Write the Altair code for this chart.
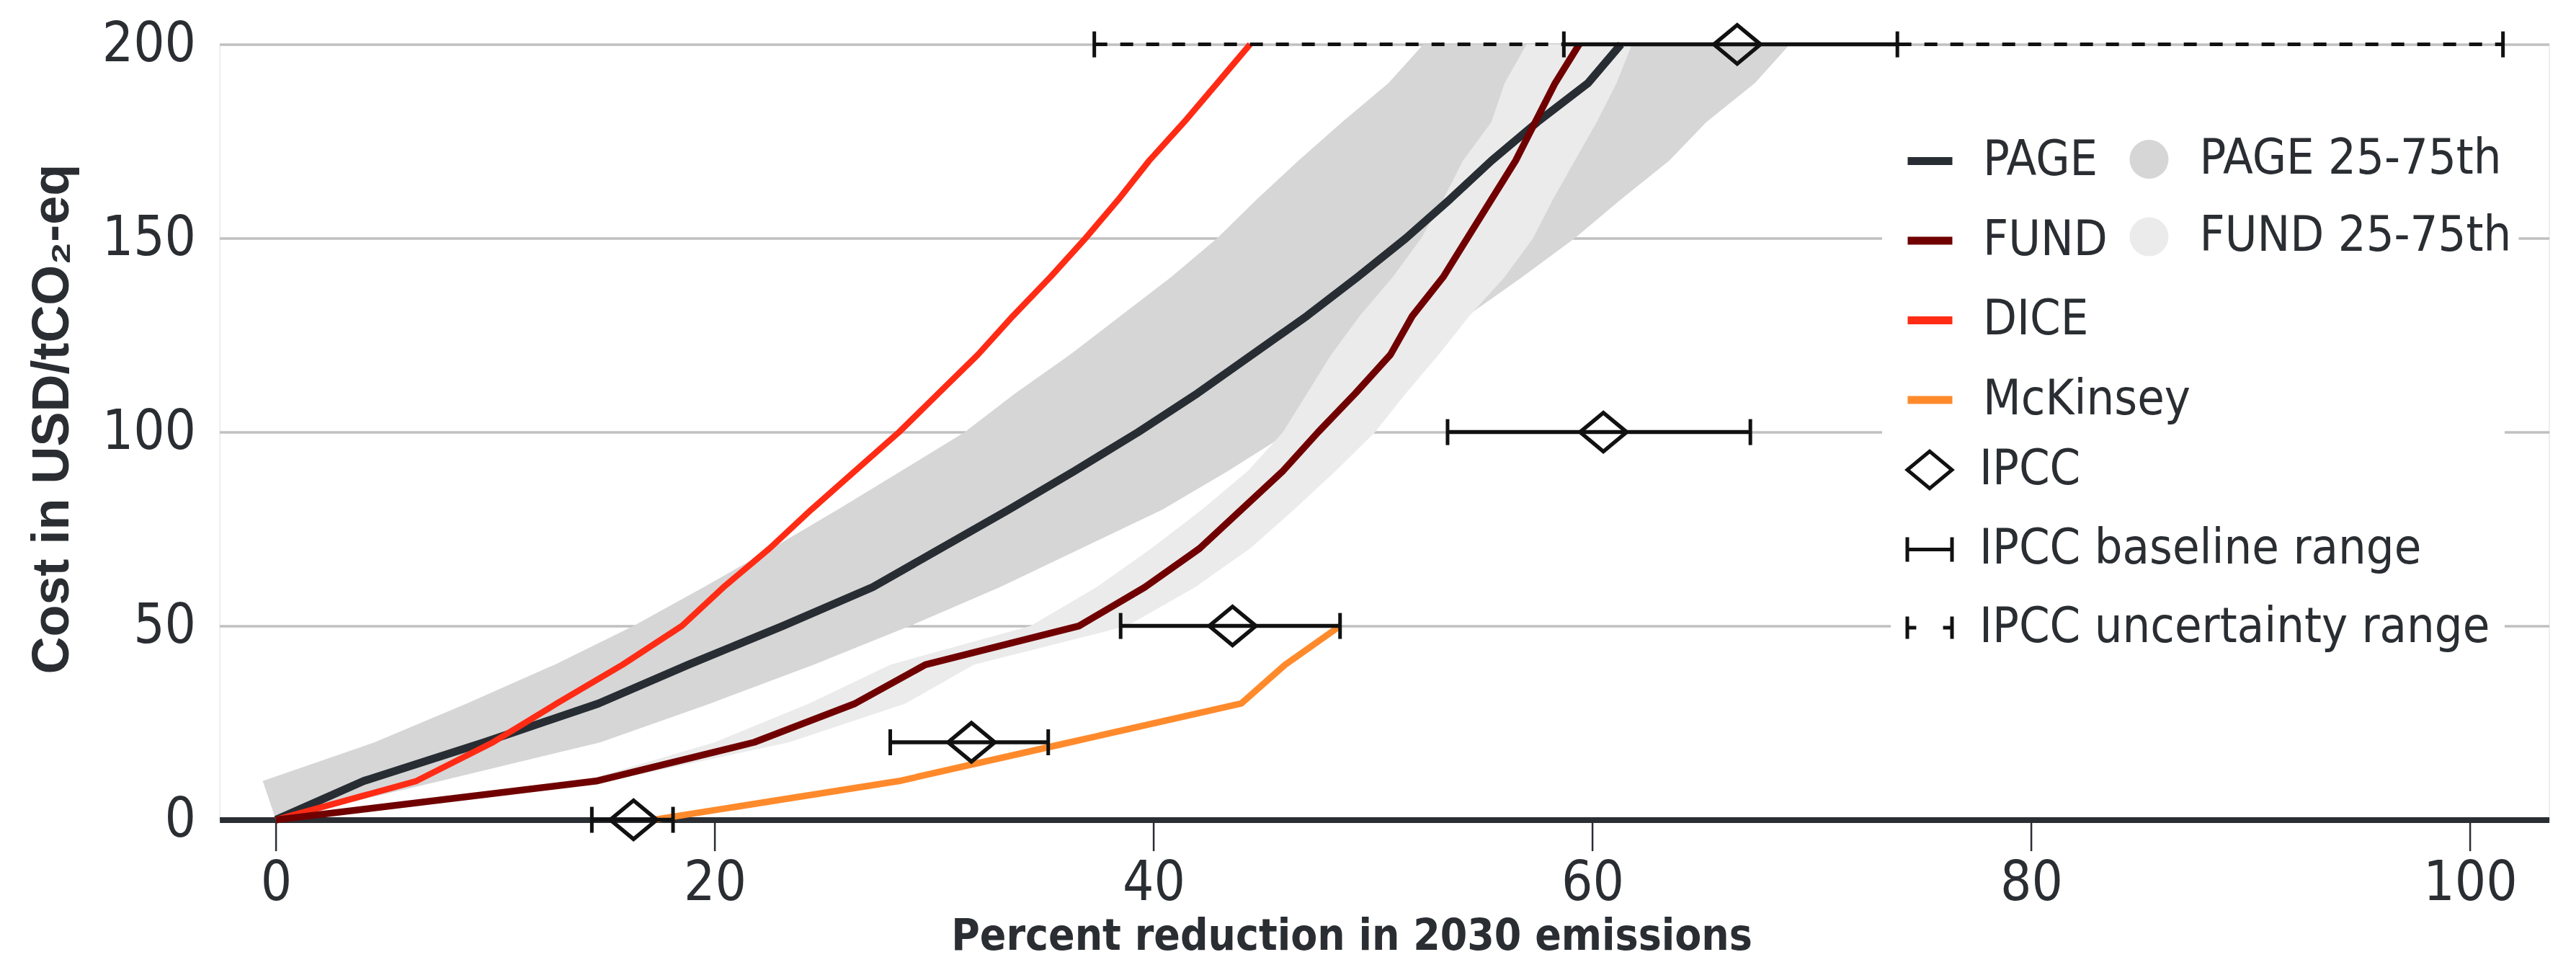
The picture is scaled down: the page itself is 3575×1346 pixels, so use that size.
import altair as alt
import pandas as pd

# ---------------- data ----------------
cost_levels = [0, 10, 20, 30, 40, 50, 60, 70, 80, 90, 100,
               110, 120, 130, 140, 150, 160, 170, 180, 190, 200]

page_pct = [0, 4.0, 9.5, 14.7, 18.8, 23.1, 27.2, 30.3, 33.4, 36.4, 39.3,
            42.0, 44.5, 47.0, 49.3, 51.5, 53.5, 55.4, 57.5, 59.8, 61.3]
fund_pct = [0, 14.6, 21.8, 26.4, 29.6, 36.6, 39.6, 42.1, 44.0, 45.9, 47.5,
            49.2, 50.8, 51.8, 53.2, 54.3, 55.4, 56.5, 57.4, 58.3, 59.4]
dice_pct = [0, 6.4, 9.9, 12.8, 15.8, 18.5, 20.4, 22.5, 24.4, 26.4, 28.4,
            30.2, 32.0, 33.6, 35.3, 36.9, 38.4, 39.8, 41.4, 42.9, 44.4]
mck_cost = [0, 10, 20, 30, 40, 50]
mck_pct = [17.2, 28.4, 36.2, 44.0, 46.0, 48.5]

page_band_lo = [0, -0.6, 4.5, 8.7, 12.7, 16.3, 19.5, 22.6, 25.6, 28.5, 31.4,
                33.7, 36.2, 38.5, 40.8, 42.9, 44.7, 46.6, 48.6, 50.7, 52.3]
page_band_hi = [0, 7.5, 14.8, 19.8, 24.5, 28.9, 33.0, 36.7, 40.4, 43.4, 46.2,
                49.0, 51.7, 54.3, 56.8, 59.2, 61.3, 63.5, 65.2, 67.4, 69.0]
fund_band_lo = [0, 14.0, 20.0, 24.3, 28.0, 34.4, 37.4, 39.9, 42.2, 44.3, 45.9,
                47.0, 48.1, 49.4, 50.9, 52.2, 53.2, 54.1, 55.4, 56.0, 57.0]
fund_band_hi = [0, 15.2, 23.4, 28.7, 31.8, 38.8, 41.9, 44.4, 46.4, 48.3, 50.1,
                51.5, 53.0, 54.4, 56.0, 57.3, 58.2, 59.2, 60.2, 61.1, 61.8]

ipcc_cost = [0, 20, 50, 100, 200]
ipcc_mid = [16.3, 31.7, 43.6, 60.5, 66.6]
ipcc_base_lo = [14.4, 28.0, 38.5, 53.4, 58.7]
ipcc_base_hi = [18.1, 35.2, 48.5, 67.2, 73.9]
unc_cost = [200]
unc_lo = [37.3]
unc_hi = [101.5]

models = ["PAGE", "FUND", "DICE", "McKinsey"]
model_colors = ["#272d33", "#700000", "#ff2b14", "#ff8a2c"]
model_widths = [11, 9.5, 8.5, 9]
bands = ["PAGE 25-75th", "FUND 25-75th"]
band_colors = ["#d6d6d6", "#ebebeb"]
ipcc_labels = ["IPCC", "IPCC baseline range", "IPCC uncertainty range"]

x_ticks = [0, 20, 40, 60, 80, 100]
y_ticks = [0, 50, 100, 150, 200]

# ---------------- tables ----------------
rows = []
for name, pcts in [("PAGE", page_pct), ("FUND", fund_pct), ("DICE", dice_pct)]:
    for c, p in zip(cost_levels, pcts):
        rows.append({"model": name, "cost": c, "pct": p})
for c, p in zip(mck_cost, mck_pct):
    rows.append({"model": "McKinsey", "cost": c, "pct": p})
lines_df = pd.DataFrame(rows)

page_band_df = pd.DataFrame({"cost": cost_levels, "lo": page_band_lo,
                             "hi": page_band_hi, "band": bands[0]})
fund_band_df = pd.DataFrame({"cost": cost_levels, "lo": fund_band_lo,
                             "hi": fund_band_hi, "band": bands[1]})

base_df = pd.DataFrame({"cost": ipcc_cost, "lo": ipcc_base_lo, "hi": ipcc_base_hi})
base_ends = pd.DataFrame({"cost": ipcc_cost + ipcc_cost,
                          "x": ipcc_base_lo + ipcc_base_hi})
unc_df = pd.DataFrame({"cost": unc_cost, "lo": unc_lo, "hi": unc_hi})
unc_ends = pd.DataFrame({"cost": unc_cost + unc_cost, "x": unc_lo + unc_hi})
pts_df = pd.DataFrame({"cost": ipcc_cost, "mid": ipcc_mid,
                       "label": ["IPCC"] * len(ipcc_cost)})

# ---------------- styling ----------------
W, H = 3233, 1076
TXT = "#2a2e33"
NARROW = "Liberation Sans Narrow, DejaVu Sans Condensed, sans-serif"
BOLDF = "Liberation Sans, Arial, sans-serif"
BAR = "#111111"

x_scale = alt.Scale(domain=[-2.57, 103.6], nice=False, zero=False)
y_scale = alt.Scale(domain=[0, 200], nice=False, zero=False)

x_axis = alt.Axis(values=x_ticks, format="d", grid=False,
                  domainColor=TXT, domainWidth=8,
                  tickColor=TXT, tickWidth=2.5, tickSize=43,
                  labelFont=NARROW, labelFontSize=76, labelColor=TXT,
                  labelPadding=8,
                  title="Percent reduction in 2030 emissions",
                  titleFont=NARROW, titleFontWeight="bold", titleFontSize=60,
                  titleColor=TXT, titleX=1571, titleY=162,
                  titleBaseline="middle", titleAlign="center")
y_axis = alt.Axis(values=y_ticks, format="d", grid=True,
                  gridColor="#c0c0c0", gridWidth=3.5,
                  domain=False, ticks=False,
                  labelFont=NARROW, labelFontSize=76, labelColor=TXT,
                  labelPadding=33,
                  title="Cost in USD/tCO₂-eq",
                  titleFont=BOLDF, titleFontWeight="bold", titleFontSize=72,
                  titleColor=TXT, titleX=-232, titleY=519.5,
                  titleBaseline="middle", titleAlign="center", titleAngle=270)

def X(field):
    return alt.X(field, type="quantitative", scale=x_scale, axis=x_axis)

def Y(field):
    return alt.Y(field, type="quantitative", scale=y_scale, axis=y_axis)

DIAMOND = "M-1,0L0,-0.83L1,0L0,0.83Z"
BASE_SYM = "M-1,-0.55L-1,0.55M-1,0L1,0M1,-0.55L1,0.55"
UNC_SYM = "M-1,-0.5L-1,0.5M-1,0L-0.6,0M0.6,0L1,0M1,-0.5L1,0.5"

LEG_FS = 68

band_fill = alt.Fill("band:N",
                     scale=alt.Scale(domain=bands, range=band_colors),
                     legend=alt.Legend(title=None, orient="none",
                                       legendX=2633.9, legendY=115.4,
                                       padding=10, fillColor="white", zindex=3,
                                       symbolType="circle", symbolSize=2922,
                                       symbolStrokeWidth=0,
                                       labelFont=NARROW, labelFontSize=LEG_FS,
                                       labelColor=TXT, labelOffset=36,
                                       labelLimit=3000, rowPadding=39.5))

line_color = alt.Color("model:N",
                       scale=alt.Scale(domain=models, range=model_colors),
                       legend=alt.Legend(title=None, orient="none",
                                         legendX=2307.4, legendY=95.4,
                                         padding=30, fillColor="white", zindex=1,
                                         symbolType="stroke", symbolSize=3844,
                                         symbolStrokeWidth=11,
                                         labelFont=NARROW, labelFontSize=LEG_FS,
                                         labelColor=TXT, labelOffset=37,
                                         labelLimit=3000, rowPadding=39.5))

ipcc_shape = alt.Shape("label:N",
                       scale=alt.Scale(domain=ipcc_labels,
                                       range=[DIAMOND, BASE_SYM, UNC_SYM]),
                       legend=alt.Legend(title=None, orient="none",
                                         legendX=2319.4, legendY=536.4,
                                         padding=20, fillColor="white", zindex=2,
                                         symbolSize=3844, symbolStrokeWidth=5,
                                         symbolStrokeColor=BAR,
                                         symbolFillColor="transparent",
                                         labelFont=NARROW, labelFontSize=LEG_FS,
                                         labelColor=TXT, labelOffset=35,
                                         labelLimit=3000, rowPadding=40.5))

# ---------------- layers ----------------
page_band = alt.Chart(page_band_df).mark_area(orient="horizontal", opacity=1).encode(
    y=Y("cost"), x=X("lo"), x2="hi", fill=band_fill)
fund_band = alt.Chart(fund_band_df).mark_area(orient="horizontal", opacity=1).encode(
    y=Y("cost"), x=X("lo"), x2="hi", fill=band_fill)

line_layers = []
for name in ["PAGE", "DICE", "FUND", "McKinsey"]:
    sw = model_widths[models.index(name)]
    line_layers.append(
        alt.Chart(lines_df).transform_filter(alt.datum.model == name)
        .mark_line(strokeWidth=sw, strokeJoin="round", strokeCap="butt")
        .encode(x=X("pct"), y=Y("cost"), color=line_color, order="cost:Q")
    )

unc_rule = alt.Chart(unc_df).mark_rule(color=BAR, strokeWidth=5,
                                       strokeDash=[18, 18]).encode(
    x=X("lo"), x2="hi", y=Y("cost"))
unc_tick = alt.Chart(unc_ends).mark_tick(orient="vertical", size=36, thickness=5,
                                         color=BAR, opacity=1).encode(
    x=X("x"), y=Y("cost"))
base_rule = alt.Chart(base_df).mark_rule(color=BAR, strokeWidth=5.5).encode(
    x=X("lo"), x2="hi", y=Y("cost"))
base_tick = alt.Chart(base_ends).mark_tick(orient="vertical", size=36, thickness=5,
                                           color=BAR, opacity=1).encode(
    x=X("x"), y=Y("cost"))
points = alt.Chart(pts_df).mark_point(filled=False, color=BAR, strokeWidth=5.5,
                                      size=4200, opacity=1).encode(
    x=X("mid"), y=Y("cost"), shape=ipcc_shape)

chart = alt.layer(
    page_band, fund_band, *line_layers,
    unc_rule, unc_tick, base_rule, base_tick, points
).properties(
    width=W, height=H,
    padding={"left": 296.6, "top": 53.6, "right": 20, "bottom": 200},
    autosize=alt.AutoSizeParams(type="none"),
).configure_view(stroke=None).configure(background="white")

chart.save("out.html", embed_options={"renderer": "svg", "actions": False})
